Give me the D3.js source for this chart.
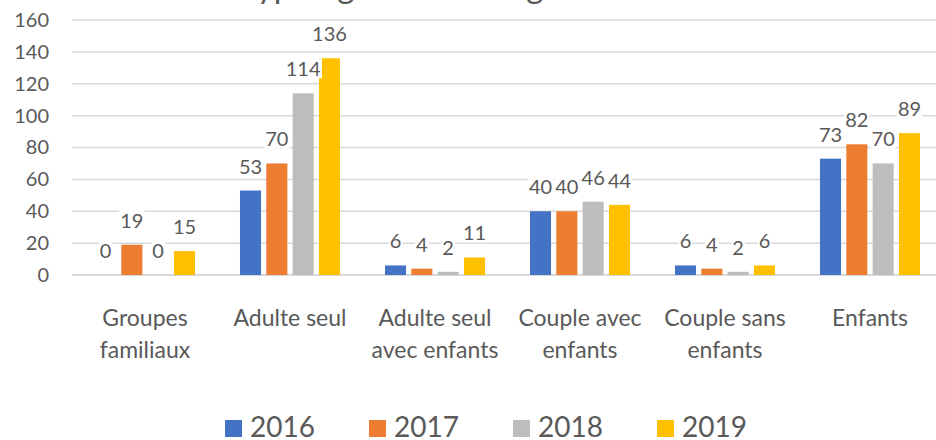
<!DOCTYPE html>
<html><head><meta charset="utf-8">
<script src="https://cdn.jsdelivr.net/npm/d3@7"></script>
<style>
html,body{margin:0;padding:0;background:#fff;overflow:hidden;}
svg{display:block;font-family:Lato,"Open Sans",sans-serif;}
</style></head>
<body>
<svg id="chart" width="936" height="440"></svg>
<script>
const title = "Typologie des ménages";
const categories = [["Groupes","familiaux"],["Adulte seul"],["Adulte seul","avec enfants"],["Couple avec","enfants"],["Couple sans","enfants"],["Enfants"]];
const years = ["2016","2017","2018","2019"];
const colors = ["#4472C4","#ED7D31","#BDBDBB","#FFC000"];
const v2016 = [0,53,6,40,6,73];
const v2017 = [19,70,4,40,4,82];
const v2018 = [0,114,2,46,2,70];
const v2019 = [15,136,11,44,6,89];
const series = [v2016,v2017,v2018,v2019];
const yTicks = [0,20,40,60,80,100,120,140,160];

const svg = d3.select("#chart");
const catKeys = categories.map(c=>c.join(" "));
const x0 = d3.scaleBand().domain(catKeys).range([72.5,942.5]).paddingInner(0.31).paddingOuter(0.155);
const x1 = d3.scaleBand().domain(years).range([0,x0.bandwidth()]).paddingInner(0.2);
const y = d3.scaleLinear().domain([0,160]).range([275,20]);

// title (cropped at top, as in the reference)
svg.append("text").attr("x",240).attr("y",-2).attr("font-size",33).attr("fill","#595959").text(title);

// gridlines
svg.append("g").selectAll("line").data(yTicks).join("line")
  .attr("x1",72).attr("x2",936).attr("y1",d=>y(d)).attr("y2",d=>y(d))
  .attr("stroke","#D9D9D9").attr("stroke-width",d=>d===0?2:1.5);

// y axis labels
const yAxis = d3.axisLeft(y).tickValues(yTicks).tickSize(0).tickPadding(0);
const ya = svg.append("g").attr("transform","translate(49,0)").call(yAxis);
ya.select(".domain").remove();
ya.selectAll("text").attr("font-size",20).attr("fill","#595959").attr("font-family","Lato");

// bars
const groups = svg.append("g").selectAll("g").data(years).join("g");
groups.each(function(yr,si){
  const g = d3.select(this);
  g.selectAll("rect").data(series[si]).join("rect")
    .attr("x",(d,i)=>x0(catKeys[i])+x1(yr))
    .attr("width",x1.bandwidth())
    .attr("y",d=>y(d))
    .attr("height",d=>y(0)-y(d))
    .attr("fill",colors[si]);
});

// labels
const lab = svg.append("g");
series.forEach((vals,si)=>{
  vals.forEach((v,i)=>{
    const cx = x0(catKeys[i])+x1(years[si])+x1.bandwidth()/2;
    const gy = y(v)-17;
    const t = lab.append("text").attr("x",cx).attr("y",gy).attr("text-anchor","middle")
      .attr("font-size",20).attr("fill","#595959").text(v);
    const bb = t.node().getBBox();
    lab.insert("rect","text:last-child").attr("x",bb.x-1).attr("y",bb.y+2).attr("width",bb.width+2).attr("height",bb.height-4).attr("fill","#fff");
  });
});

// category labels
const cl = svg.append("g");
categories.forEach((lines,i)=>{
  const cx = x0(catKeys[i])+x0.bandwidth()/2;
  const t = cl.append("text").attr("text-anchor","middle").attr("font-size",23).attr("fill","#595959");
  lines.forEach((ln,j)=>{
    t.append("tspan").attr("x",cx).attr("y",326+j*32).text(ln);
  });
});

// legend
const lg = svg.append("g");
years.forEach((yr,i)=>{
  const lx = 225+i*144;
  lg.append("rect").attr("x",lx).attr("y",420).attr("width",17).attr("height",17).attr("fill",colors[i]);
  lg.append("text").attr("x",lx+25).attr("y",437).attr("font-size",28).attr("fill","#595959").text(yr);
});
</script>
</body></html>
